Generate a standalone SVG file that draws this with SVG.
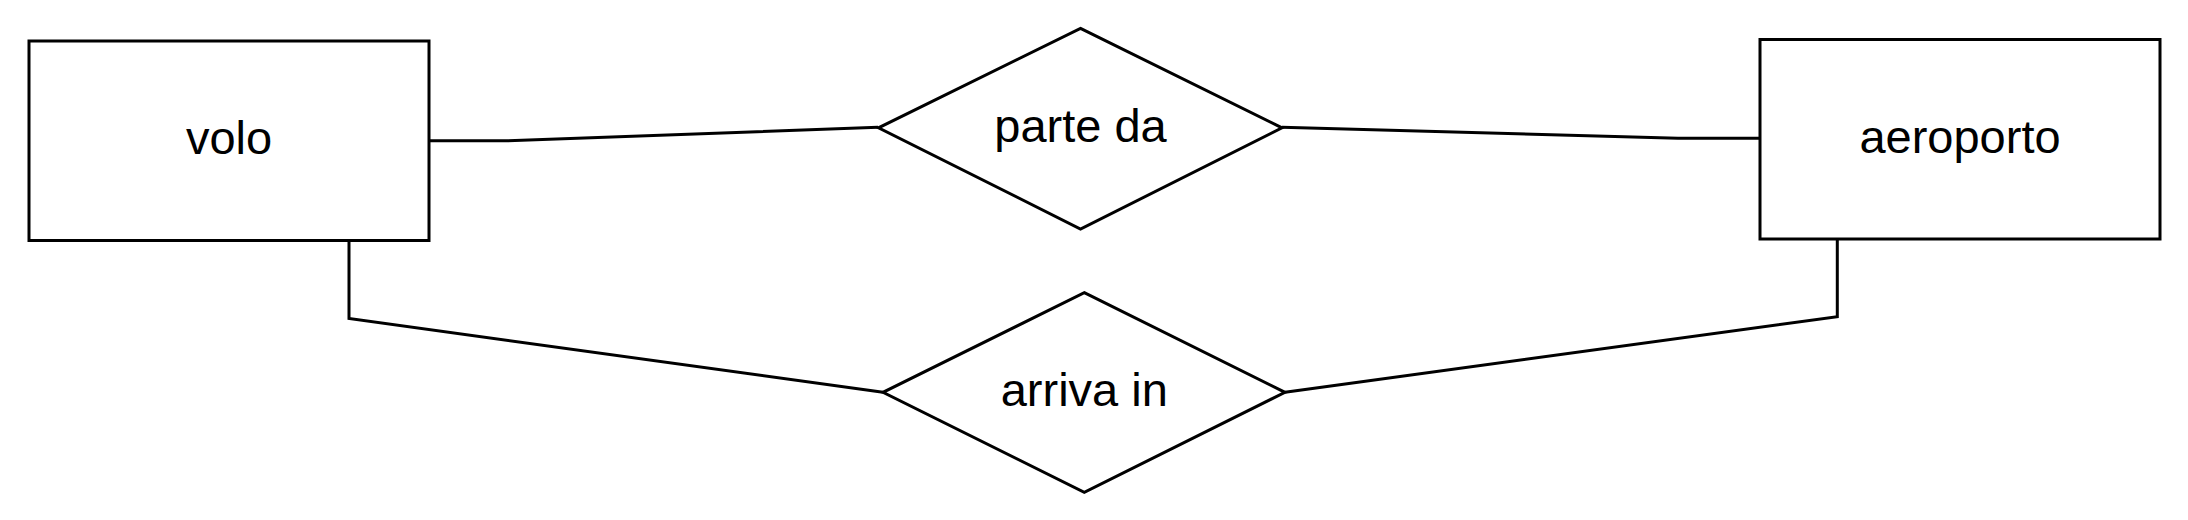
<svg xmlns="http://www.w3.org/2000/svg" width="2188" height="520" viewBox="0 0 2188 520">
<style>
.shape{fill:#fff;stroke:#000;stroke-width:3}
.edge{fill:none;stroke:#000;stroke-width:3}
.label{font-family:"Liberation Sans",Arial,sans-serif;font-size:47px;fill:#000;text-anchor:middle}
</style>
<rect width="2188" height="520" fill="#fff"/>
<g id="connectors">
<polyline class="edge" points="429,140.7 508,140.7 878,127.3"/>
<polyline class="edge" points="1282,127.3 1678,138.3 1760,138.3"/>
<polyline class="edge" points="349,241 349,318.5 883,392.3"/>
<polyline class="edge" points="1837.3,239 1837.3,316.7 1285,392.3"/>
</g>
<g id="volo">
<rect class="shape" x="29" y="41" width="400" height="199.5"/>
<text class="label" x="229" y="153.5">volo</text>
</g>
<g id="aeroporto">
<rect class="shape" x="1760" y="39.5" width="400" height="199.5"/>
<text class="label" x="1960" y="152.5">aeroporto</text>
</g>
<g id="parte_da">
<polygon class="shape" points="1080.5,28.3 1282,127.8 1080.5,229 878.5,127.8"/>
<text class="label" x="1080.5" y="141.5">parte da</text>
</g>
<g id="arriva_in">
<polygon class="shape" points="1084.3,292.7 1285,392.3 1084.3,492.3 883,392.3"/>
<text class="label" x="1084.3" y="406">arriva in</text>
</g>
</svg>
